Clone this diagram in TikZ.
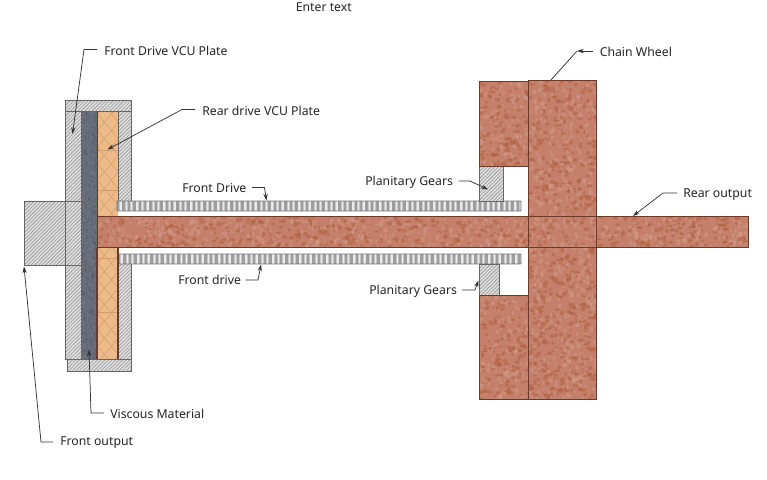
\documentclass[tikz,border=0pt]{standalone}
\usepackage{fontspec}
\setmainfont{Noto Sans}
\usetikzlibrary{patterns.meta,arrows.meta}
\definecolor{brownbase}{HTML}{C4806A}
\definecolor{browndark}{HTML}{B0603F}
\definecolor{brownlight}{HTML}{D09A88}
\definecolor{edgebrown}{HTML}{6A3A2C}
\definecolor{edgegrey}{HTML}{666666}
\definecolor{platedark}{HTML}{666C78}
\definecolor{platelight}{HTML}{777C88}
\definecolor{platedeep}{HTML}{4F5560}
\definecolor{orangebase}{HTML}{EDBA8A}
\definecolor{orangeline}{HTML}{D29E6C}
\tikzset{
  x=0.75pt,y=-0.75pt,
  hatched/.style={fill=black!13,postaction={pattern={Lines[angle=45,distance=1.9pt,line width=.42pt]},pattern color=black!42}},
  greyedge/.style={draw=edgegrey,line width=.65pt},
  brownedge/.style={draw=edgebrown,line width=.65pt},
  lead/.style={draw=black!80,line width=.55pt},
  leadtip/.style={lead,-{Stealth[length=5pt,width=3.2pt]}},
  lbl/.style={anchor=west,inner sep=0pt,font=\fontsize{9.2}{11}\selectfont,text=black!85},
}
% speckled rectangle: x1 y1 x2 y2 count base dark
\newcommand{\speckrect}[7]{%
  \begin{scope}
    \clip (#1,#2) rectangle (#3,#4);
    \fill[#6] (#1,#2) rectangle (#3,#4);
    \foreach \i in {1,...,#5}{%
      \pgfmathsetmacro{\px}{#1+rnd*(#3-#1)}%
      \pgfmathsetmacro{\py}{#2+rnd*(#4-#2)}%
      \pgfmathsetmacro{\ra}{1.2+rnd*1.8}%
      \pgfmathsetmacro{\rb}{1.0+rnd*1.3}%
      \pgfmathtruncatemacro{\w}{rnd*2}%
      \ifnum\w=0
        \fill[#7,opacity=.5] (\px,\py) ellipse [x radius=\ra,y radius=\rb];
      \else
        \fill[brownlight,opacity=.5] (\px,\py) ellipse [x radius=\rb,y radius=\ra];
      \fi
    }%
  \end{scope}}
% ribbed tube: x1 y1 x2 y2
\newcommand{\tube}[4]{%
  \begin{scope}
    \clip (#1,#2) rectangle (#3,#4);
    \fill[black!8] (#1,#2) rectangle (#3,#4);
    \foreach \k in {0,5.4,...,410}{%
      \fill[black!22] (#1+\k-.8,#2) rectangle (#1+\k+3.2,#4);
      \fill[black!38] (#1+\k,#2) rectangle (#1+\k+2.4,#4);
    }%
  \end{scope}
  \draw[draw=black!55,line width=.7pt,rounded corners=.6pt] (#1,#2) rectangle (#3,#4);}
\begin{document}
\begin{tikzpicture}
\pgfmathsetseed{4711}
\useasboundingbox (0,0) rectangle (767,479);
\fill[white] (0,0) rectangle (767,479);

% --- hatched housing
\path[hatched] (65,100) rectangle (131,111);
\path[hatched] (65,111) rectangle (81,359);
\path[hatched] (118,111) rectangle (131,201);
\path[hatched] (118,263) rectangle (131,359);
\path[hatched] (67,359) rectangle (131,371);
\path[hatched] (24,201) rectangle (81,265);

% --- dark viscous layer
\fill[platedark] (81,111) rectangle (96,359);
\begin{scope}
  \clip (81,111) rectangle (96,359);
  \foreach \i in {1,...,190}{%
    \pgfmathsetmacro{\px}{81+rnd*15}%
    \pgfmathsetmacro{\py}{111+rnd*248}%
    \pgfmathsetmacro{\rr}{1+rnd*1.6}%
    \fill[platedeep,opacity=.55] (\px,\py) ellipse [x radius=.6,y radius=\rr];
    \pgfmathsetmacro{\qx}{81+rnd*15}%
    \pgfmathsetmacro{\qy}{111+rnd*248}%
    \fill[platelight,opacity=.6] (\qx,\qy) circle [radius=1];
  }%
\end{scope}

% --- orange plate
\fill[orangebase] (97,111) rectangle (118,359);
\path[pattern={Lines[angle=50,distance=8pt,line width=.4pt]},pattern color=orangeline] (97,111) rectangle (118,359);
\path[pattern={Lines[angle=130,distance=8pt,line width=.4pt]},pattern color=orangeline] (97,111) rectangle (118,359);
\foreach \yy in {150,190,258,312}{\draw[orangeline,line width=.4pt] (97,\yy) -- (118,\yy);}

% --- tubes
\tube{117}{201}{521}{211}
\tube{118}{254}{521}{264}

% --- shaft and chain wheel
\speckrect{97}{216}{748}{247.5}{1100}{brownbase}{browndark}
\speckrect{479}{81}{528}{166}{220}{brownbase}{browndark}
\speckrect{479}{295}{528}{399}{260}{brownbase}{browndark}
\speckrect{528}{80}{596.5}{399}{1150}{brownbase}{browndark}

% --- planetary gears
\path[hatched] (479,166.5) rectangle (503.5,201);
\path[hatched] (479,264) rectangle (499.5,295);

% --- outlines
\draw[greyedge] (65,100) rectangle (131,111);
\draw[greyedge] (65,111) rectangle (81,359);
\draw[greyedge] (81,111) rectangle (96,359);
\draw[greyedge] (118,111) -- (118,201) (131,111) -- (131,201);
\draw[greyedge] (118,263) -- (118,359) (131,264) -- (131,359);
\draw[greyedge] (67,359) rectangle (131,371);
\draw[greyedge] (65,359) -- (131,359);
\draw[greyedge] (24,201) rectangle (96,265);
\draw[draw=edgebrown,line width=.6pt] (97,111) -- (97,216);
\draw[draw=edgebrown,line width=.8pt] (97,247.5) -- (97,359) (118,247.5) -- (118,359);
\draw[greyedge] (479,166.5) rectangle (503.5,201);
\draw[greyedge] (479,264) rectangle (499.5,295);
\draw[brownedge] (97,216) rectangle (748,247.5);
\draw[brownedge] (479,81) rectangle (528,166);
\draw[brownedge] (479,295) rectangle (528,399);
\draw[brownedge] (528,80) rectangle (596.5,399);

% --- labels
\node[lbl] (title) at (295.5,7.5) {Enter text};
\node[lbl] (fplate) at (104,50.5) {Front Drive VCU Plate};
\node[lbl] (rplate) at (202,110.5) {Rear drive VCU Plate};
\node[lbl] (fdrivetop) at (182,188.5) {Front Drive};
\node[lbl] (fdrivebot) at (178,279.5) {Front drive};
\node[lbl] (pgtop) at (365,182.5) {Planitary Gears};
\node[lbl] (pgbot) at (369,291) {Planitary Gears};
\node[lbl] (chain) at (599.5,52) {Chain Wheel};
\node[lbl] (rear) at (683,194.5) {Rear output};
\node[lbl] (visc) at (110,413.5) {Viscous Material};
\node[lbl] (fout) at (60,443) {Front output};

% --- connector ends
\coordinate (tipfplate) at (72.5,134);
\coordinate (bendfplate) at (84,49.5);
\coordinate (tiprplate) at (107.5,149.5);
\coordinate (bendrplate) at (182,109.5);
\coordinate (tipfdt) at (266.5,200.5);
\coordinate (bendfdt) at (264.5,187.5);
\coordinate (tipfdb) at (261,264.5);
\coordinate (bendfdb) at (258,280);
\coordinate (tippgt) at (488,189.5);
\coordinate (bendpgt) at (470,181);
\coordinate (tippgb) at (478.5,280.5);
\coordinate (bendpgb) at (475,290);
\coordinate (bendchain) at (577,51);
\coordinate (endchain) at (551,80);
\coordinate (tiprear) at (633,216);
\coordinate (bendrear) at (663,193);
\coordinate (tipvisc) at (89,349.5);
\coordinate (bendvisc) at (91,413);
\coordinate (tipfout) at (24,266.5);
\coordinate (bendfout) at (41,442);

% --- connectors
\draw[leadtip] (fplate.west |- bendfplate) ++(-5.2pt,0) -- (bendfplate) -- (tipfplate);
\draw[leadtip] (rplate.west |- bendrplate) ++(-5.2pt,0) -- (bendrplate) -- (tiprplate);
\draw[leadtip] (fdrivetop.east |- bendfdt) ++(4pt,0) -- (bendfdt) -- (tipfdt);
\draw[leadtip] (fdrivebot.east |- bendfdb) ++(3pt,0) -- (bendfdb) -- (tipfdb);
\draw[leadtip] (pgtop.east |- bendpgt) ++(4pt,0) -- (bendpgt) -- (tippgt);
\draw[leadtip] (pgbot.east |- bendpgb) ++(3.5pt,0) -- (bendpgb) -- (tippgb);
\draw[leadtip] (chain.west |- bendchain) ++(-5pt,0) -- (bendchain);
\draw[lead] (bendchain) -- (endchain);
\draw[leadtip] (rear.west |- bendrear) ++(-4.5pt,0) -- (bendrear) -- (tiprear);
\draw[leadtip] (visc.west |- bendvisc) ++(-4.5pt,0) -- (bendvisc) -- (tipvisc);
\draw[leadtip] (fout.west |- bendfout) ++(-5.2pt,0) -- (bendfout) -- (tipfout);
\end{tikzpicture}
\end{document}
